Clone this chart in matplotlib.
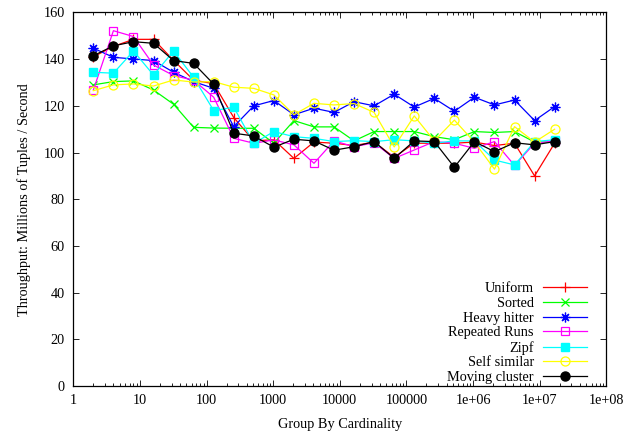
"""
Group-by throughput vs cardinality, gnuplot style
"""

import numpy as np
import matplotlib
matplotlib.use('Agg')
import matplotlib.pyplot as plt
from matplotlib.ticker import FixedLocator, NullFormatter

plt.rcParams['font.family'] = ['Liberation Serif', 'DejaVu Serif']
plt.rcParams['font.size'] = 10.3

# cardinalities 2^1 .. 2^24
cardinality = [2 ** k for k in range(1, 25)]

uniform = [141, 145.5, 148.5, 148.5, 139.5, 131, 129.5, 115, 105, 105.5, 97.5, 104.5,
           104, 103, 104.5, 98, 104, 104, 104, 104.5, 103, 104, 90, 104]
sorted_ = [129, 130.4, 130.7, 126.8, 120.7, 110.8, 110.5, 110.4, 110.4, 104, 113.7, 111,
           111, 105, 109, 109, 109, 106.8, 105.5, 109, 108.6, 109, 104.5, 104.5]
heavy_hitter = [144.7, 140.8, 140.1, 139.4, 134.4, 130.4, 127.5, 111.1, 120, 122.3, 116.2, 119,
                117.2, 121.8, 120, 125, 119.5, 123.2, 117.7, 123.7, 120.4, 122.5, 113.7, 119.7]
repeated_runs = [126.8, 152.2, 149.7, 137.5, 133, 131, 123.7, 106.1, 104, 105.4, 103.3, 95.4,
                 105, 102.5, 104.2, 97.5, 101.1, 104.7, 104, 101.8, 104.7, 94.5, 104, 105]
zipf = [134.4, 134, 143.5, 133.2, 143.5, 132.2, 118, 119.4, 104, 109, 106.8, 106.1,
        104.7, 105.1, 104.7, 105.5, 105, 104, 105, 105, 96.8, 94.7, 104.7, 105.5]
self_similar = [126.5, 129, 129.4, 128.5, 131.1, 130.2, 130.4, 128, 127.5, 124.7, 116.2, 121.1,
                120.4, 121, 117.2, 102.4, 115.7, 105, 113.9, 104.5, 92.9, 111.1, 104.5, 110]
moving_cluster = [141.5, 145.7, 147.5, 146.8, 139.4, 138.2, 129.3, 108.3, 107.1, 102.3, 105.7, 105,
                  101, 102.5, 104.7, 97.5, 105, 104.7, 93.7, 104.7, 100.4, 104.2, 103.3, 104.7]

series = [
    ('Uniform', uniform, '#ff0000', '+', 'none', 7),
    ('Sorted', sorted_, '#00ff00', 'x', 'none', 5.5),
    ('Heavy hitter', heavy_hitter, '#0000ff', (8, 2, 0), 'none', 7),
    ('Repeated Runs', repeated_runs, '#ff00ff', 's', 'none', 6),
    ('Zipf', zipf, '#00ffff', 's', 'full', 6),
    ('Self similar', self_similar, '#ffff00', 'o', 'none', 6.5),
    ('Moving cluster', moving_cluster, '#000000', 'o', 'full', 6.5),
]

fig = plt.figure(figsize=(6.38, 4.34), dpi=100)
ax = fig.add_axes([0.1149, 0.1106, 0.8354, 0.8606])

for label, vals, color, marker, fill, ms in series:
    if fill == 'full':
        ax.plot(cardinality, vals, color=color, marker=marker, markersize=ms,
                markerfacecolor=color, markeredgecolor=color, linewidth=0.9, label=label)
    else:
        ax.plot(cardinality, vals, color=color, marker=marker, markersize=ms,
                markerfacecolor='none', markeredgecolor=color, markeredgewidth=0.9,
                linewidth=0.9, label=label)

ax.set_xscale('log')
ax.set_xlim(1, 1e8)
ax.set_ylim(0, 160)

xticks = [1, 10, 100, 1000, 10000, 100000, 1e6, 1e7, 1e8]
xlabels = ['1', '10', '100', '1000', '10000', '100000', '1e+06', '1e+07', '1e+08']
ax.xaxis.set_major_locator(FixedLocator(xticks))
ax.set_xticklabels(xlabels)
minor = [m * 10 ** d for d in range(0, 8) for m in range(2, 10)]
ax.xaxis.set_minor_locator(FixedLocator(minor))
ax.xaxis.set_minor_formatter(NullFormatter())
ax.set_yticks(np.arange(0, 161, 20))

ax.tick_params(which='both', direction='in', top=True, right=True, labelsize=10.3, pad=6)
ax.tick_params(which='major', length=4.5, width=0.6)
ax.tick_params(which='minor', length=2.5, width=0.6)
for sp in ax.spines.values():
    sp.set_linewidth(0.9)

ax.set_xlabel('Group By Cardinality', fontsize=10.3, labelpad=8)
ax.set_ylabel('Throughput: Millions of Tuples / Second', fontsize=10.3, labelpad=9)

ax.legend(loc='lower right', bbox_to_anchor=(0.977, -0.013), frameon=False, markerfirst=False,
          handlelength=3.1, handletextpad=0.6, labelspacing=0.11, borderpad=0,
          fontsize=10.3)

fig.savefig('out.png', dpi=100)
